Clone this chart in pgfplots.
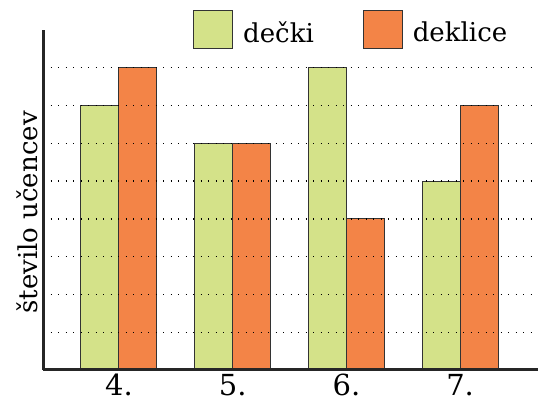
\documentclass[border=0pt]{standalone}
\usepackage{fontspec}
\setmainfont{DejaVu Serif}
\usepackage{pgfplots}
\pgfplotsset{compat=1.18}
\pgfplotsset{ybar legend/.style={legend image code/.code={\draw[##1] (0pt,-6pt) rectangle (39pt,32pt);}}}
\definecolor{cgreen}{HTML}{D4E289}
\definecolor{corange}{HTML}{F38447}
\begin{document}
\begin{tikzpicture}[x=1pt,y=1pt]
\path[use as bounding box] (0,0) rectangle (538,403);
\begin{axis}[
  at={(43pt,33pt)}, anchor=south west,
  scale only axis, width=495pt, height=340pt,
  xmin=-0.668, xmax=3.685, ymin=0, ymax=9,
  axis x line*=bottom, axis y line*=left,
  axis line style={line width=3pt, black!85},
  ybar=0pt, bar width=38pt,
  xtick={0,1,2,3}, xticklabels={4.,5.,6.,7.},
  ytick={1,...,8}, yticklabels={},
  major tick length=0pt,
  ymajorgrids, grid style={black, line width=1.4pt, dash pattern=on 1.2pt off 6.3pt},
  axis on top,
  xticklabel style={font=\fontsize{29}{30}\selectfont, anchor=base, yshift=-26pt},
  legend columns=2,
  legend style={at={(0.303,1.059)}, anchor=north west, draw=none, fill=none,
    inner sep=0pt, font=\fontsize{26}{30}\selectfont, nodes={inner sep=0pt, yshift=10pt},
    /tikz/every odd column/.append style={column sep=10pt},
    /tikz/every even column/.append style={column sep=49pt}},
]
\addplot[fill=cgreen, draw=black!80, line width=1pt]
  coordinates {(0,7) (1,6) (2,8) (3,5)};
\addplot[fill=corange, draw=black!80, line width=1pt]
  coordinates {(0,8) (1,6) (2,4) (3,7)};
\legend{dečki, deklice}
\end{axis}
\node[rotate=90, anchor=base, font=\fontsize{26}{30}\selectfont] at (38,190.5) {število učencev};
\end{tikzpicture}
\end{document}
